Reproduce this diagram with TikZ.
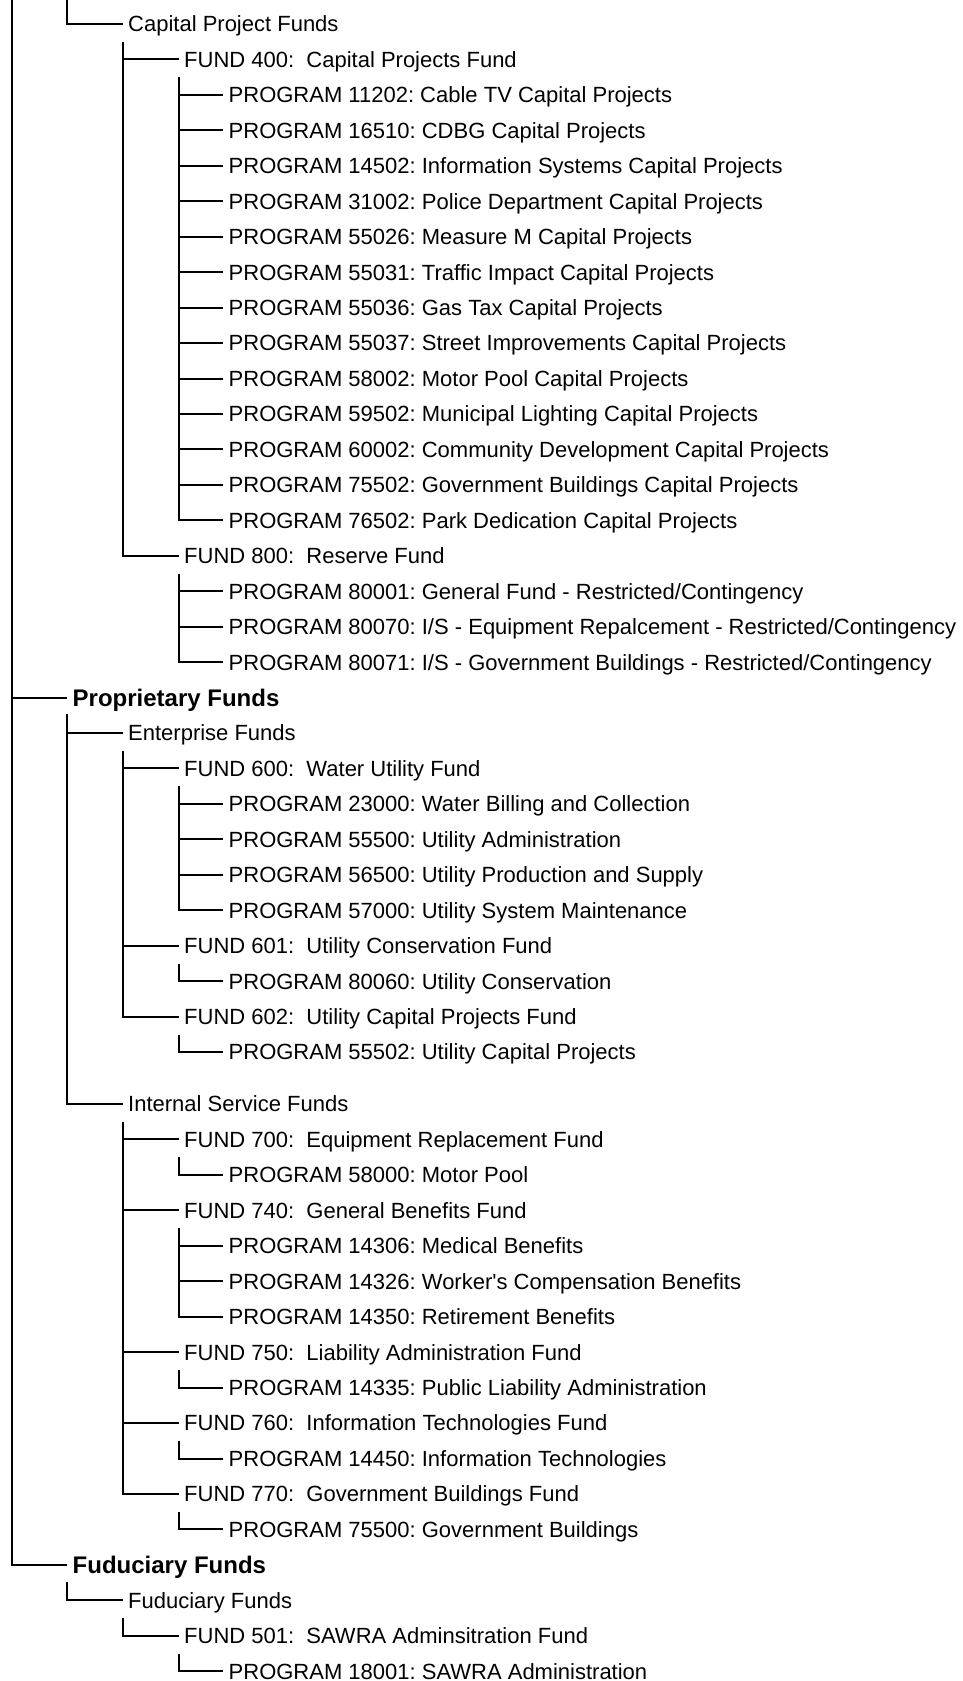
\documentclass[tikz,border=0pt]{standalone}
\usepackage{fontspec}
\setmainfont{Liberation Sans}
\usepackage{tikz}
\frenchspacing

\tikzset{
  item/.style={anchor=west,inner xsep=5.5pt,inner ysep=9.8pt,text height=15.8pt,text depth=0pt,font=\fontsize{22}{26}\selectfont},
  group/.style={item,inner ysep=8pt,text height=17.2pt,font=\fontsize{24}{28}\selectfont\bfseries},
  link/.style={-,draw=black,line width=2pt},
  elbow/.style={to path={|- (\tikztotarget)}}
}

\begin{document}
\begin{tikzpicture}[x=1pt,y=-1pt]
\useasboundingbox (0,0) rectangle (963,1681);
\coordinate (root) at (12,0);
\coordinate (govtop) at (67,0);

\node[item] (cpf) at (122.5,24) {Capital Project Funds};
\node[item] (f400) at (178.5,59.45) {FUND 400:\ \ Capital Projects Fund};
\node[item] (p11202) at (223,94.9) {PROGRAM 11202: Cable TV Capital Projects};
\node[item] (p16510) at (223,130.35) {PROGRAM 16510: CDBG Capital Projects};
\node[item] (p14502) at (223,165.8) {PROGRAM 14502: Information Systems Capital Projects};
\node[item] (p31002) at (223,201.25) {PROGRAM 31002: Police Department Capital Projects};
\node[item] (p55026) at (223,236.7) {PROGRAM 55026: Measure M Capital Projects};
\node[item] (p55031) at (223,272.15) {PROGRAM 55031: Traffic Impact Capital Projects};
\node[item] (p55036) at (223,307.6) {PROGRAM 55036: Gas Tax Capital Projects};
\node[item] (p55037) at (223,343.05) {PROGRAM 55037: Street Improvements Capital Projects};
\node[item] (p58002) at (223,378.5) {PROGRAM 58002: Motor Pool Capital Projects};
\node[item] (p59502) at (223,413.95) {PROGRAM 59502: Municipal Lighting Capital Projects};
\node[item] (p60002) at (223,449.4) {PROGRAM 60002: Community Development Capital Projects};
\node[item] (p75502) at (223,484.85) {PROGRAM 75502: Government Buildings Capital Projects};
\node[item] (p76502) at (223,520.3) {PROGRAM 76502: Park Dedication Capital Projects};
\node[item] (f800) at (178.5,555.75) {FUND 800:\ \ Reserve Fund};
\node[item] (p80001) at (223,591.2) {PROGRAM 80001: General Fund - Restricted/Contingency};
\node[item] (p80070) at (223,626.65) {PROGRAM 80070: I/S - Equipment Repalcement - Restricted/Contingency};
\node[item] (p80071) at (223,662.1) {PROGRAM 80071: I/S - Government Buildings - Restricted/Contingency};

\node[group] (prop) at (67,697.55) {Proprietary Funds};
\node[item] (ent) at (122.5,733) {Enterprise Funds};
\node[item] (f600) at (178.5,768.45) {FUND 600:\ \ Water Utility Fund};
\node[item] (p23000) at (223,803.9) {PROGRAM 23000: Water Billing and Collection};
\node[item] (p55500) at (223,839.35) {PROGRAM 55500: Utility Administration};
\node[item] (p56500) at (223,874.8) {PROGRAM 56500: Utility Production and Supply};
\node[item] (p57000) at (223,910.25) {PROGRAM 57000: Utility System Maintenance};
\node[item] (f601) at (178.5,945.7) {FUND 601:\ \ Utility Conservation Fund};
\node[item] (p80060) at (223,981.15) {PROGRAM 80060: Utility Conservation};
\node[item] (f602) at (178.5,1016.6) {FUND 602:\ \ Utility Capital Projects Fund};
\node[item] (p55502) at (223,1052.05) {PROGRAM 55502: Utility Capital Projects};
\node[item] (isf) at (122.5,1104) {Internal Service Funds};
\node[item] (f700) at (178.5,1139.45) {FUND 700:\ \ Equipment Replacement Fund};
\node[item] (p58000) at (223,1174.9) {PROGRAM 58000: Motor Pool};
\node[item] (f740) at (178.5,1210.35) {FUND 740:\ \ General Benefits Fund};
\node[item] (p14306) at (223,1245.8) {PROGRAM 14306: Medical Benefits};
\node[item] (p14326) at (223,1281.25) {PROGRAM 14326: Worker\textquotesingle s Compensation Benefits};
\node[item] (p14350) at (223,1316.7) {PROGRAM 14350: Retirement Benefits};
\node[item] (f750) at (178.5,1352.15) {FUND 750:\ \ Liability Administration Fund};
\node[item] (p14335) at (223,1387.6) {PROGRAM 14335: Public Liability Administration};
\node[item] (f760) at (178.5,1423.05) {FUND 760:\ \ Information Technologies Fund};
\node[item] (p14450) at (223,1458.5) {PROGRAM 14450: Information Technologies};
\node[item] (f770) at (178.5,1493.95) {FUND 770:\ \ Government Buildings Fund};
\node[item] (p75500) at (223,1529.4) {PROGRAM 75500: Government Buildings};

\node[group] (fid) at (67,1564.85) {Fuduciary Funds};
\node[item] (fidf) at (122.5,1600.3) {Fuduciary Funds};
\node[item] (f501) at (178.5,1635.75) {FUND 501:\ \ SAWRA Adminsitration Fund};
\node[item] (p18001) at (223,1671.2) {PROGRAM 18001: SAWRA Administration};

% top of the tree
\path [link] (root) edge[elbow] (prop.west);
\path [link] (root) edge[elbow] (fid.west);
\path [link] (govtop) edge[elbow] (cpf.west);

% capital project funds
\path [link] (cpf.south west) edge[elbow] (f400.west);
\path [link] (cpf.south west) edge[elbow] (f800.west);
\foreach \p in {p11202,p16510,p14502,p31002,p55026,p55031,p55036,p55037,p58002,p59502,p60002,p75502,p76502}
  \path [link] (f400.south west) edge[elbow] (\p.west);
\foreach \p in {p80001,p80070,p80071}
  \path [link] (f800.south west) edge[elbow] (\p.west);

% proprietary funds
\path [link] (prop.south west) edge[elbow] (ent.west);
\path [link] (prop.south west) edge[elbow] (isf.west);
\foreach \f in {f600,f601,f602}
  \path [link] (ent.south west) edge[elbow] (\f.west);
\foreach \p in {p23000,p55500,p56500,p57000}
  \path [link] (f600.south west) edge[elbow] (\p.west);
\path [link] (f601.south west) edge[elbow] (p80060.west);
\path [link] (f602.south west) edge[elbow] (p55502.west);
\foreach \f in {f700,f740,f750,f760,f770}
  \path [link] (isf.south west) edge[elbow] (\f.west);
\path [link] (f700.south west) edge[elbow] (p58000.west);
\foreach \p in {p14306,p14326,p14350}
  \path [link] (f740.south west) edge[elbow] (\p.west);
\path [link] (f750.south west) edge[elbow] (p14335.west);
\path [link] (f760.south west) edge[elbow] (p14450.west);
\path [link] (f770.south west) edge[elbow] (p75500.west);

% fuduciary funds
\path [link] (fid.south west) edge[elbow] (fidf.west);
\path [link] (fidf.south west) edge[elbow] (f501.west);
\path [link] (f501.south west) edge[elbow] (p18001.west);
\end{tikzpicture}
\end{document}
